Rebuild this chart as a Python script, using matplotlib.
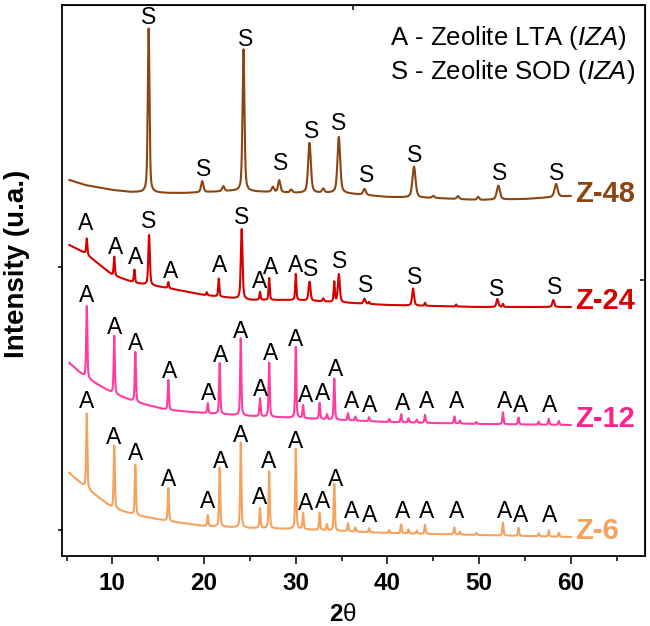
import numpy as np
import matplotlib
matplotlib.use('Agg')
import matplotlib.pyplot as plt

plt.rcParams['font.family'] = ['Liberation Sans', 'DejaVu Sans']
plt.rcParams['mathtext.fontset'] = 'custom'
plt.rcParams['mathtext.rm'] = 'Liberation Sans'
plt.rcParams['mathtext.it'] = 'Liberation Sans:italic'
plt.rcParams['mathtext.bf'] = 'Liberation Sans:bold'

# ---------------- data ----------------
two_theta_range = [5.3, 60.0]
samples = ['Z-6', 'Z-12', 'Z-24', 'Z-48']
colors = ['#F5A25D', '#FF3DA0', '#D60000', '#8B4513']
label_colors = ['#F5A25D', '#FF2090', '#D60000', '#8B4513']
offsets = [19, 131, 249, 356]

# background (knots, relative intensity)
z6_base_x = [5.3, 7, 10, 12.5, 16, 20, 25, 30, 40, 50, 60]
z6_base_y = [64, 50, 29, 22, 16, 11, 9, 8, 4, 2, 0]
z12_base_x = [5.3, 7, 10, 12.5, 16, 20, 25, 30, 40, 50, 60]
z12_base_y = [62, 48, 32, 23, 15, 12, 9, 7, 3, 1, 0]
z24_base_x = [5.3, 7, 10, 12.5, 14, 16, 20, 22, 25, 30, 34, 40, 50, 60]
z24_base_y = [62, 54, 32, 24, 22, 19, 12, 10, 7, 7, 5, 2, 0, 0]
z48_base_x = [5.3, 7, 10, 12, 16, 18, 23, 27, 30, 35, 40, 45, 50, 55, 60]
z48_base_y = [20, 15, 10, 8, 7, 7, 9, 8, 7, 7, 3, 2, 0, 1, 4]

# reflections: position (2theta), height, width
lta_pos = [7.2, 10.2, 12.5, 16.1, 20.4, 21.7, 24.0, 26.1, 27.1, 30.0, 30.8, 32.6,
           33.4, 34.2, 35.7, 36.5, 38.0, 40.2, 41.5, 42.3, 43.2, 44.1, 47.3, 47.9,
           49.7, 52.6, 54.3, 56.5, 57.6, 58.7]
z6_peak_h = [75, 63, 50, 33, 11, 59, 85, 20, 57, 80, 16, 17, 6, 47, 8, 4, 4, 3, 9,
             4, 3, 9, 7, 3, 2, 13, 8, 3, 6, 4]
z12_peak_h = [72, 58, 50, 30, 10, 51, 77, 18, 54, 71, 13, 16, 5, 41, 7, 4, 4, 3, 8,
              4, 3, 8, 7, 3, 2, 12, 7, 3, 6, 4]
z24_peak_pos = [7.2, 10.2, 12.4, 14.0, 16.1, 20.3, 21.6, 24.1, 26.1, 27.1, 30.0,
                31.5, 33.0, 34.2, 34.7, 37.5, 38.0, 42.8, 44.1, 47.5, 52.0, 52.6, 58.1]
z24_peak_h = [16, 19, 13, 50, 6, 3, 18, 70, 8, 22, 26, 19, 3, 20, 28, 5, 2, 17, 3,
              2, 8, 3, 7]
z24_peak_w = [0.15, 0.15, 0.15, 0.2, 0.15, 0.15, 0.15, 0.22, 0.15, 0.15, 0.15,
              0.25, 0.2, 0.15, 0.25, 0.25, 0.15, 0.25, 0.15, 0.15, 0.25, 0.15, 0.25]
z48_peak_pos = [13.95, 19.8, 22.1, 24.3, 27.5, 28.2, 29.5, 31.5, 33.0, 34.7, 37.5,
                42.9, 45.0, 47.7, 49.9, 52.1, 58.4]
z48_peak_h = [164, 11, 5, 142, 5, 12, 3, 50, 4, 56, 6, 31, 2, 3, 3, 14, 13]
z48_peak_w = [0.22, 0.3, 0.3, 0.25, 0.3, 0.3, 0.3, 0.35, 0.3, 0.35, 0.35, 0.4,
              0.3, 0.3, 0.3, 0.4, 0.4]

# phase labels (letter, 2theta, intensity)
z6_labels = ['A'] * 21
z6_label_x = [7.2, 10.1, 12.5, 16.1, 20.4, 21.8, 24.0, 26.1, 27.05, 30.0, 31.1,
              32.9, 34.3, 36.1, 38.0, 41.6, 44.3, 47.55, 52.8, 54.5, 57.7]
z6_label_y = [154, 119, 103, 76, 55, 94, 120, 58, 95, 114, 52, 54, 77, 44, 41, 44,
              45, 44, 45, 41, 41]
z12_labels = ['A'] * 21
z12_label_x = [7.2, 10.2, 12.5, 16.2, 20.5, 21.8, 24.0, 26.2, 27.2, 30.0, 31.1,
               32.9, 34.3, 36.1, 38.0, 41.6, 44.3, 47.55, 52.8, 54.5, 57.7]
z12_label_y = [260, 228, 212, 184, 162, 201, 225, 167, 203, 216, 161, 163, 186,
               155, 151, 153, 155, 154, 155, 151, 151]
z24_labels = ['A', 'A', 'A', 'S', 'A', 'A', 'S', 'A', 'A', 'A', 'S', 'S', 'S', 'S', 'S', 'S']
z24_label_x = [7.1, 10.3, 12.5, 13.9, 16.3, 21.7, 24.1, 26.0, 27.3, 30.0, 31.6,
               34.8, 37.6, 43.0, 51.9, 58.2]
z24_label_y = [332, 309, 298, 335, 285, 291, 338, 275, 288, 290, 287, 295, 271,
               278, 266, 268]
z48_labels = ['S'] * 10
z48_label_x = [14.0, 20.0, 24.5, 28.3, 31.7, 34.7, 37.7, 43.0, 52.2, 58.5]
z48_label_y = [538, 386, 516, 392, 425, 433, 381, 401, 383, 383]

legend_lines = [r'A - Zeolite LTA ($\mathit{IZA}$)', r'S - Zeolite SOD ($\mathit{IZA}$)']
x_ticks = [10, 20, 30, 40, 50, 60]
x_minor = [5, 15, 25, 35, 45, 55, 65]

# ---------------- build patterns ----------------
tt = np.arange(two_theta_range[0], two_theta_range[1] + 1e-9, 0.005)


def pattern(bx, by, pos, h, w):
    y = np.interp(tt, bx, by).astype(float)
    if np.isscalar(w):
        w = [w] * len(pos)
    for p, a, fw in zip(pos, h, w):
        hw = fw / 2.0
        lor = 1.0 / (1.0 + ((tt - p) / hw) ** 2)
        gau = np.exp(-np.log(2) * ((tt - p) / hw) ** 2)
        y += a * (0.5 * lor + 0.5 * gau)
    return y


series = [
    pattern(z6_base_x, z6_base_y, lta_pos, z6_peak_h, 0.15),
    pattern(z12_base_x, z12_base_y, lta_pos, z12_peak_h, 0.15),
    pattern(z24_base_x, z24_base_y, z24_peak_pos, z24_peak_h, z24_peak_w),
    pattern(z48_base_x, z48_base_y, z48_peak_pos, z48_peak_h, z48_peak_w),
]
label_sets = [
    (z6_labels, z6_label_x, z6_label_y),
    (z12_labels, z12_label_x, z12_label_y),
    (z24_labels, z24_label_x, z24_label_y),
    (z48_labels, z48_label_x, z48_label_y),
]

# ---------------- plot ----------------
fig = plt.figure(figsize=(6.5, 6.26), dpi=100)
ax = fig.add_axes([62 / 650, 1 - 556 / 626, (645 - 62) / 650, (556 - 5) / 626])

for name, col, lcol, off, y, (labs, lx, ly) in zip(samples, colors, label_colors, offsets,
                                                    series, label_sets):
    ax.plot(tt, y + off, color=col, lw=1.5, solid_joinstyle='round')
    for t, x0, y0 in zip(labs, lx, ly):
        ax.text(x0, y0, t, ha='center', va='center', fontsize=16.5, color='black')
    ax.text(60.5, off + 6, name, ha='left', va='center', fontsize=21,
            fontweight='bold', color=lcol)

ax.text(40.3, 518, legend_lines[0], ha='left', va='center', fontsize=18.5)
ax.text(40.3, 484, legend_lines[1], ha='left', va='center', fontsize=18.5)

ax.set_xlim(4.5, 68.1)
ax.set_ylim(0, 551)
ax.set_xticks(x_ticks)
ax.set_xticks(x_minor, minor=True)
ax.set_xticklabels([str(v) for v in x_ticks], fontsize=17.5, fontweight='bold')
ax.set_yticks([26, 289])
ax.set_yticklabels([])
ax.tick_params(axis='x', which='major', direction='out', length=5.8, width=1.1, pad=6)
ax.tick_params(axis='x', which='minor', direction='out', length=3.4, width=1.1)
ax.tick_params(axis='y', which='major', direction='out', length=3, width=1.1)
for s in ax.spines.values():
    s.set_linewidth(1.3)

sec_x = ax.secondary_xaxis('top')
sec_x.set_xticks([36.3])
sec_x.set_xticklabels([])
sec_x.tick_params(direction='in', length=3.5, width=1.1)
sec_y = ax.secondary_yaxis('right')
sec_y.set_yticks([276])
sec_y.set_yticklabels([])
sec_y.tick_params(direction='in', length=3.5, width=1.1)

fig.text(343 / 650, 5 / 626, r'$\mathbf{2}\mathrm{θ}$', ha='center', va='baseline', fontsize=17.5)
fig.text(17 / 650, 1 - 264 / 626, 'Intensity (u.a.)', rotation=90, ha='center', va='center',
         fontsize=20, fontweight='bold')

fig.savefig('out.png', dpi=100)
